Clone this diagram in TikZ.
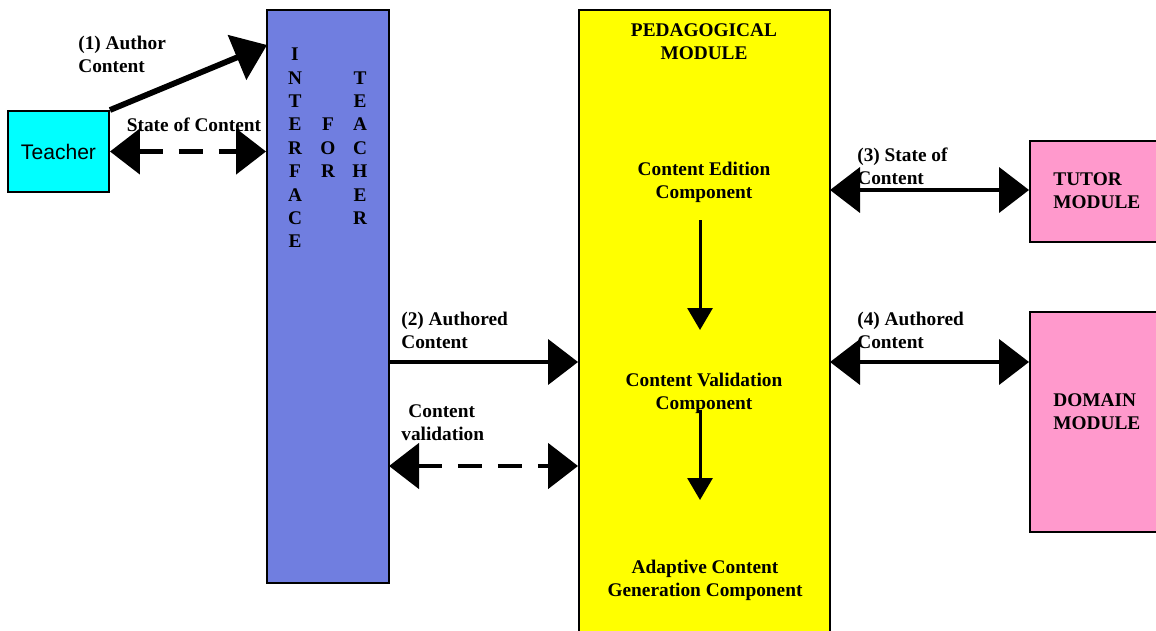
\documentclass[tikz,border=0pt]{standalone}
\usepackage{fontspec}
\setmainfont{Liberation Serif}
\newfontfamily\arialfont{Liberation Sans}
\usepackage{tikz}
\usetikzlibrary{arrows.meta, positioning}
\definecolor{ifblue}{RGB}{112,126,224}
\definecolor{modpink}{RGB}{255,153,204}
\definecolor{teachcyan}{RGB}{0,255,255}
\definecolor{pedyellow}{RGB}{255,255,0}
\tikzset{
	blockbox/.style={draw, line width=1.1pt, inner sep=0pt},
	lbl/.style={font=\bfseries\fontsize{11}{13}\selectfont, align=left, inner sep=0pt},
	ctrlbl/.style={font=\bfseries\fontsize{11}{13}\selectfont, align=center, inner sep=0pt},
	letters/.style={font=\bfseries\fontsize{11}{13.3}\selectfont, align=center, inner sep=0pt},
	authorarr/.style={line width=3.3pt, -{Triangle[length=6.5mm, width=9.5mm]}},
	solidarr/.style={line width=2.3pt, -{Triangle[length=6mm, width=9mm]}},
	dblarr/.style={line width=2.3pt, {Triangle[length=6mm, width=9mm]}-{Triangle[length=6mm, width=9mm]}},
	dasharr/.style={line width=2.8pt, dash pattern=on 4.8mm off 3.2mm, {Triangle[length=6mm, width=9mm]}-{Triangle[length=6mm, width=9mm]}},
	innerarr/.style={line width=1.7pt, -{Triangle[length=4.4mm, width=5mm]}},
}
\begin{document}
\begin{tikzpicture}[x=0.2mm, y=-0.2mm]
	\useasboundingbox (0,0) rectangle (1156,630);

	% Boxes
	\node[blockbox, fill=teachcyan, minimum width=2.02cm, minimum height=1.62cm, font=\arialfont\fontsize{12}{14}\selectfont] (teacher) at (58.5,151.5) {Teacher};
	\node[blockbox, fill=ifblue, minimum width=2.44cm, minimum height=11.46cm] (iface) at (328,296.5) {};
	\node[blockbox, fill=pedyellow, minimum width=5.02cm, minimum height=12.6cm] (ped) at (704.5,325) {};
	\node[blockbox, fill=modpink, minimum width=2.72cm, minimum height=2.02cm] (tutor) at (1098,191.5) {};
	\node[blockbox, fill=modpink, minimum width=2.72cm, minimum height=4.4cm] (domain) at (1098,422) {};

	% Interface for teacher, written downwards
	\node[letters] (ifcol1) at (295,148) {I\\N\\T\\E\\R\\F\\A\\C\\E};
	\node[letters] (ifcol2) at (328,148) {F\\O\\R};
	\node[letters] (ifcol3) at (360,148) {T\\E\\A\\C\\H\\E\\R};

	% Module texts
	\node[ctrlbl] (pedtitle) at (704,42) {PEDAGOGICAL\\MODULE};
	\node[ctrlbl] (edition) at (704,182) {Content Edition\\Component};
	\node[ctrlbl] (validation) at (704,393) {Content Validation\\Component};
	\node[ctrlbl] (adaptive) at (705,580) {Adaptive Content\\Generation Component};
	\node[lbl, anchor=west] (tutortxt) at (1053,191) {TUTOR\\MODULE};
	\node[lbl, anchor=west] (domaintxt) at (1053,412) {DOMAIN\\MODULE};

	% Connector labels
	\node[lbl, anchor=west] (lauthor) at (78,54) {(1) Author\\Content};
	\node[ctrlbl] (lstate) at (194,125) {State of Content};
	\node[lbl, anchor=west] (lauthored) at (401,330) {(2) Authored\\Content};
	\node[lbl, anchor=west] (lvalid) at (401,423) {\hspace*{4pt}Content\\validation};
	\node[lbl, anchor=west] (lstate3) at (857,166) {(3) State of\\Content};
	\node[lbl, anchor=west] (lauthored4) at (857,330) {(4) Authored\\Content};

	% Connector ends
	\coordinate (authin) at (267,45);
	\coordinate (authout) at (389,362);
	\coordinate (validout) at (389,466);
	\coordinate (stateout) at (830,190);
	\coordinate (domout) at (830,362);
	\coordinate (edtop) at (700,220);
	\coordinate (edbot) at (700,330);
	\coordinate (vatop) at (700,410);
	\coordinate (vabot) at (700,500);

	% Arrows
	\draw[authorarr] (teacher.north east) -- (authin);
	\draw[dasharr] (teacher.east) -- (teacher.east -| iface.west);
	\draw[solidarr] (authout) -- (authout -| ped.west);
	\draw[dasharr] (validout) -- (validout -| ped.west);
	\draw[dblarr] (stateout) -- (stateout -| tutor.west);
	\draw[dblarr] (domout) -- (domout -| domain.west);
	\draw[innerarr] (edtop) -- (edbot);
	\draw[innerarr] (vatop) -- (vabot);
\end{tikzpicture}
\end{document}
